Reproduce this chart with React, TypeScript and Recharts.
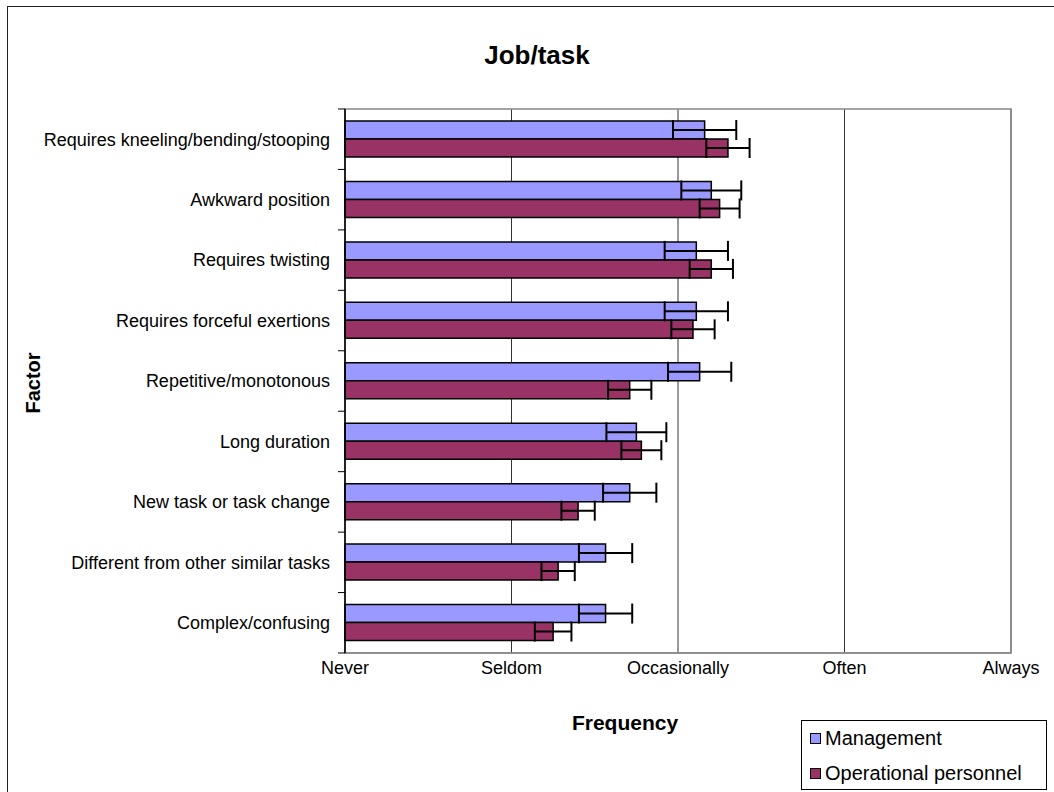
import React from "react";
import {BarChart, Bar, XAxis, YAxis, CartesianGrid, ErrorBar, ReferenceArea} from "recharts";

const categories = [
    "Requires kneeling/bending/stooping",
    "Awkward position",
    "Requires twisting",
    "Requires forceful exertions",
    "Repetitive/monotonous",
    "Long duration",
    "New task or task change",
    "Different from other similar tasks",
    "Complex/confusing",
];
const management = [2.16, 2.2, 2.11, 2.11, 2.13, 1.75, 1.71, 1.565, 1.565];
const managementErr = [0.19, 0.18, 0.19, 0.19, 0.19, 0.18, 0.16, 0.16, 0.16];
const operational = [2.3, 2.25, 2.2, 2.09, 1.71, 1.78, 1.4, 1.28, 1.25];
const operationalErr = [0.13, 0.12, 0.13, 0.13, 0.13, 0.12, 0.1, 0.1, 0.11];
const frequencyLabels = ["Never", "Seldom", "Occasionally", "Often", "Always"];

const data = categories.map((name, i) => ({
    name,
    management: management[i],
    managementErr: managementErr[i],
    operational: operational[i],
    operationalErr: operationalErr[i],
}));

const FONT = '"Liberation Sans", Arial, sans-serif';
const BAND = (653 - 109) / categories.length;

const CategoryTick = (props: any) => {
    const {x, y, payload, index} = props;
    const last = index === categories.length - 1;
    return (
        <g>
            <line x1={x - 7} x2={x} y1={y - BAND / 2} y2={y - BAND / 2} stroke="#000"/>
            {last && <line x1={x - 7} x2={x} y1={y + BAND / 2} y2={y + BAND / 2} stroke="#000"/>}
            <text x={x - 15} y={y} dy="0.35em" textAnchor="end" fontSize={18} fontFamily={FONT} fill="#000">
                {payload.value}
            </text>
        </g>
    );
};

const LegendItem = ({color, label}: { color: string, label: string }) => (
    <div style={{display: 'flex', alignItems: 'center', height: 35}}>
        <span style={{width: 9, height: 9, background: color, border: '1px solid #000', marginRight: 4}}/>
        <span>{label}</span>
    </div>
);

export default function App() {
    return (
        <div style={{position: 'absolute', left: 0, top: 0, width: 1054, height: 792, overflow: 'hidden', background: '#fff', fontFamily: FONT}}>
            <div style={{position: 'absolute', left: 7, top: 6, width: 1100, height: 850, border: '1.5px solid #222', boxSizing: 'border-box'}}/>
            <BarChart width={1054} height={792} data={data} layout="vertical"
                      margin={{top: 109, right: 43, bottom: 109, left: 0}}
                      barSize={18} barGap={0}>
                <CartesianGrid horizontal={false} stroke="#333"/>
                <ReferenceArea x1={0} x2={4} fill="none" stroke="#888" strokeWidth={1.5}/>
                <XAxis type="number" domain={[0, 4]} ticks={[0, 1, 2, 3, 4]} height={30}
                       tickFormatter={(v: number) => frequencyLabels[v]}
                       axisLine={{stroke: '#888', strokeWidth: 1.5}} tickLine={false} tickSize={0} tickMargin={8}
                       tick={{fontSize: 18, fill: '#000', fontFamily: FONT}}/>
                <YAxis type="category" dataKey="name" width={345} axisLine={{stroke: '#000', strokeWidth: 1.5}}
                       tickLine={false} tickSize={0} tickMargin={0} tick={<CategoryTick/>} interval={0}/>
                <Bar dataKey="management" fill="#9999FF" stroke="#000" strokeWidth={1.5} isAnimationActive={false}>
                    <ErrorBar dataKey="managementErr" direction="x" width={10} stroke="#000" strokeWidth={2}/>
                </Bar>
                <Bar dataKey="operational" fill="#993366" stroke="#000" strokeWidth={1.5} isAnimationActive={false}>
                    <ErrorBar dataKey="operationalErr" direction="x" width={10} stroke="#000" strokeWidth={2}/>
                </Bar>
            </BarChart>
            <svg width={1054} height={792} style={{position: 'absolute', left: 0, top: 0, pointerEvents: 'none'}}>
                <text x={537} y={64} textAnchor="middle" fontSize={26} fontWeight="bold" fontFamily={FONT}>Job/task</text>
                <text x={0} y={0} transform="translate(40,383) rotate(-90)" textAnchor="middle" fontSize={20}
                      fontWeight="bold" fontFamily={FONT}>Factor</text>
                <text x={625} y={730} textAnchor="middle" fontSize={21} fontWeight="bold" fontFamily={FONT}>Frequency</text>
            </svg>
            <div style={{position: 'absolute', left: 801, top: 720, width: 246, height: 70, border: '1px solid #000',
                boxSizing: 'border-box', background: '#fff', fontSize: 20, paddingLeft: 8}}>
                <LegendItem color="#9999FF" label="Management"/>
                <LegendItem color="#993366" label="Operational personnel"/>
            </div>
        </div>
    );
}
